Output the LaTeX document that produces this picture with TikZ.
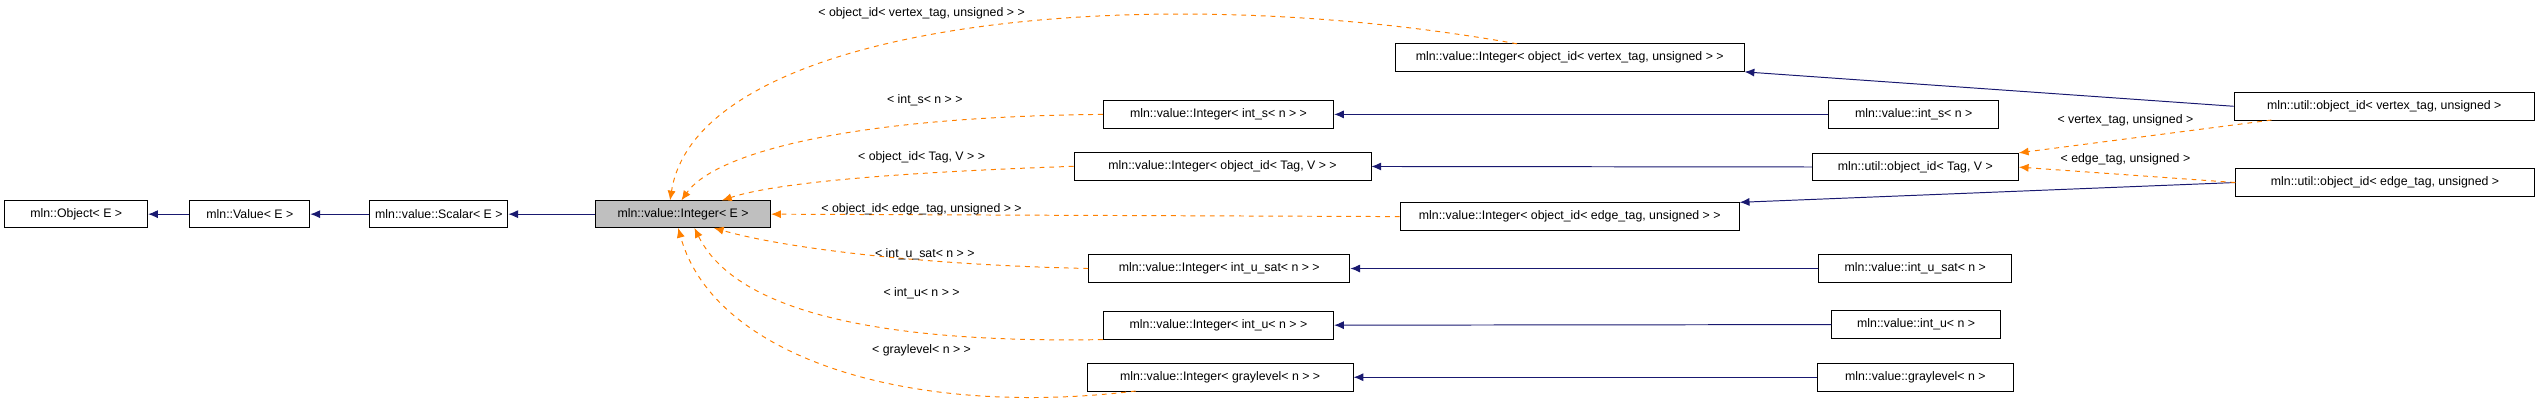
\documentclass[tikz,border=0pt]{standalone}
\usepackage{fontspec}
\setmainfont{Liberation Sans}
\usetikzlibrary{arrows.meta}
\begin{document}
\begin{tikzpicture}[x=1pt,y=-1pt,
 box/.style={draw=black,fill=white,line width=0.6pt,minimum height=17pt,inner sep=0pt,font=\fontsize{7.6}{9}\selectfont},
 inh/.style={draw={rgb,255:red,25;green,25;blue,112},line width=0.6pt,-{Latex[length=6pt,width=5pt]}},
 tpl/.style={draw=orange,dashed,line width=0.6pt,-{Latex[length=6pt,width=5pt]}},
 lbl/.style={font=\fontsize{7.6}{9}\selectfont,inner sep=0pt}]
\useasboundingbox (0,0) rectangle (1568,252);
\node[box,minimum width=88] (obj) at (47,132) {mln::Object< E >};
\node[box,minimum width=74] (val) at (154,132) {mln::Value< E >};
\node[box,minimum width=85] (sca) at (270.5,132) {mln::value::Scalar< E >};
\node[box,minimum width=108,fill={rgb,255:red,191;green,191;blue,191}] (int) at (421,132) {mln::value::Integer< E >};
\node[box,minimum width=215] (iv) at (967.5,35.5) {mln::value::Integer< object\_id< vertex\_tag, unsigned > >};
\node[box,minimum width=142] (is) at (751,70.5) {mln::value::Integer< int\_s< n > >};
\node[box,minimum width=183] (it) at (753.5,102.5) {mln::value::Integer< object\_id< Tag, V > >};
\node[box,minimum width=209] (ie) at (967.5,133.5) {mln::value::Integer< object\_id< edge\_tag, unsigned > >};
\node[box,minimum width=161] (ius) at (751.5,165.5) {mln::value::Integer< int\_u\_sat< n > >};
\node[box,minimum width=142] (iu) at (751,200.5) {mln::value::Integer< int\_u< n > >};
\node[box,minimum width=164] (ig) at (752,232.5) {mln::value::Integer< graylevel< n > >};
\node[box,minimum width=105] (s) at (1179.5,70.5) {mln::value::int\_s< n >};
\node[box,minimum width=127] (t) at (1180.5,103) {mln::util::object\_id< Tag, V >};
\node[box,minimum width=119] (us) at (1180.5,165.5) {mln::value::int\_u\_sat< n >};
\node[box,minimum width=104] (u) at (1181,200) {mln::value::int\_u< n >};
\node[box,minimum width=121] (g) at (1180.5,232.5) {mln::value::graylevel< n >};
\node[box,minimum width=185] (ov) at (1469.5,65.5) {mln::util::object\_id< vertex\_tag, unsigned >};
\node[box,minimum width=184] (oe) at (1470,112.5) {mln::util::object\_id< edge\_tag, unsigned >};

\draw[inh] (val) -- (obj);
\draw[inh] (sca) -- (val);
\draw[inh] (int) -- (sca);
\draw[inh] (s) -- (is);
\draw[inh] (t) -- (it);
\draw[inh] (us) -- (ius);
\draw[inh] (u) -- (iu);
\draw[inh] (g) -- (ig);
\draw[inh] (ov.west) -- (iv.south east);
\draw[inh] (oe.west) -- (ie.north east);

\coordinate (a1) at (935,27);
\draw[tpl] (a1) .. controls (700,-15) and (430,15) .. (413,123.5);
\draw[tpl] (is.west) .. controls (520,72) and (440,95) .. (420,123.5);
\draw[tpl] (it.west) .. controls (560,106) and (480,112) .. (445,123.5);
\draw[tpl] (ie.west) -- (int.east);
\draw[tpl] (ius.west) .. controls (560,163) and (480,152) .. (440,140.5);
\draw[tpl] (iu.south west) .. controls (520,212) and (450,185) .. (428,140.5);
\coordinate (a7) at (700,241);
\draw[tpl] (a7) .. controls (560,258) and (440,220) .. (418,140.5);
\coordinate (a8) at (1400,74);
\draw[tpl] (a8) -- (t.north east);
\draw[tpl] (oe.west) -- (t.east);

\node[lbl] (l1) at (568,8) {< object\_id< vertex\_tag, unsigned > >};
\node[lbl] (l2) at (570,62) {< int\_s< n > >};
\node[lbl] (l3) at (568,97) {< object\_id< Tag, V > >};
\node[lbl] (l4) at (568,129) {< object\_id< edge\_tag, unsigned > >};
\node[lbl] (l5) at (570,157) {< int\_u\_sat< n > >};
\node[lbl] (l6) at (568,181) {< int\_u< n > >};
\node[lbl] (l7) at (568,216) {< graylevel< n > >};
\node[lbl] (l8) at (1310,74) {< vertex\_tag, unsigned >};
\node[lbl] (l9) at (1310,98) {< edge\_tag, unsigned >};
\end{tikzpicture}
\end{document}
